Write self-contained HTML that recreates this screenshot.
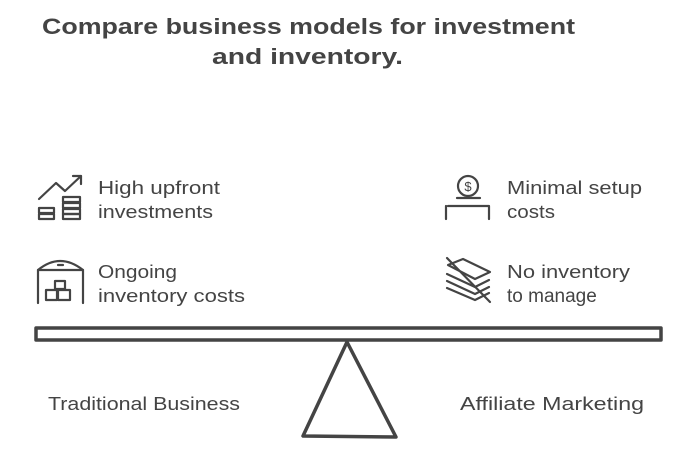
<!DOCTYPE html>
<html><head><meta charset="utf-8"><style>
html,body{margin:0;padding:0;background:#fff;}
svg{display:block;}
text{font-family:"Liberation Sans",sans-serif;fill:#444;}
</style></head><body>
<svg width="684" height="450" viewBox="0 0 684 450" xmlns="http://www.w3.org/2000/svg">
<g font-weight="bold" font-size="22">
<text x="42" y="34" textLength="533" lengthAdjust="spacingAndGlyphs">Compare business models for investment</text>
<text x="212" y="64" textLength="191" lengthAdjust="spacingAndGlyphs">and inventory.</text>
</g>
<text x="98" y="194" font-size="18" textLength="122" lengthAdjust="spacingAndGlyphs">High upfront</text>
<text x="98" y="218" font-size="18" textLength="115" lengthAdjust="spacingAndGlyphs">investments</text>
<text x="98" y="278" font-size="18" textLength="79" lengthAdjust="spacingAndGlyphs">Ongoing</text>
<text x="98" y="302" font-size="18" textLength="147" lengthAdjust="spacingAndGlyphs">inventory costs</text>
<text x="507" y="194" font-size="18" textLength="135" lengthAdjust="spacingAndGlyphs">Minimal setup</text>
<text x="507" y="218" font-size="18" textLength="48" lengthAdjust="spacingAndGlyphs">costs</text>
<text x="507" y="278" font-size="18" textLength="123" lengthAdjust="spacingAndGlyphs">No inventory</text>
<text x="507" y="302" style="font-size:19px">to manage</text>
<text x="48" y="410" font-size="18" textLength="192" lengthAdjust="spacingAndGlyphs">Traditional Business</text>
<text x="460" y="410" font-size="18" textLength="184" lengthAdjust="spacingAndGlyphs">Affiliate Marketing</text>
<g fill="none" stroke="#444" stroke-width="3.5" stroke-linejoin="round" stroke-linecap="round">
<rect x="36" y="328" width="625" height="12"/>
<path d="M347 342 L303 436 L396 437 Z"/>
</g>
<g fill="none" stroke="#444" stroke-width="2.2" stroke-linecap="round" stroke-linejoin="round">
<path d="M39 199 L56 183 L65 191 L81 176"/>
<path d="M73 176 L81 176 L81 184"/>
<rect x="39" y="208" width="15" height="5"/><rect x="39" y="214" width="15" height="5"/>
<rect x="63" y="197" width="17" height="5"/><rect x="63" y="203" width="17" height="5"/><rect x="63" y="209" width="17" height="5"/><rect x="63" y="214" width="17" height="5"/>
<path d="M38 303 L38 270 Q60 252 83 270 L83 303"/>
<path d="M38 270 L83 270"/><path d="M58 265 L63 265"/>
<rect x="55" y="281" width="10" height="8"/>
<rect x="46" y="290" width="11" height="10"/><rect x="58" y="290" width="12" height="10"/>
<circle cx="468" cy="186" r="10"/>
<text x="468" y="191" font-size="13" text-anchor="middle" stroke="none">$</text>
<path d="M457 198 L480 198 M448 206 L489 206 M446 219 L446 206 M489 219 L489 206"/>
<path d="M448 265 L463 259 L490 272 L475 279 Z"/>
<path d="M447 274 L475 287 L489 280 M447 281 L475 294 L489 287 M447 288 L475 300 L489 293"/>
<path d="M447 258 L490 302"/>
</g>
</svg>
</body></html>
